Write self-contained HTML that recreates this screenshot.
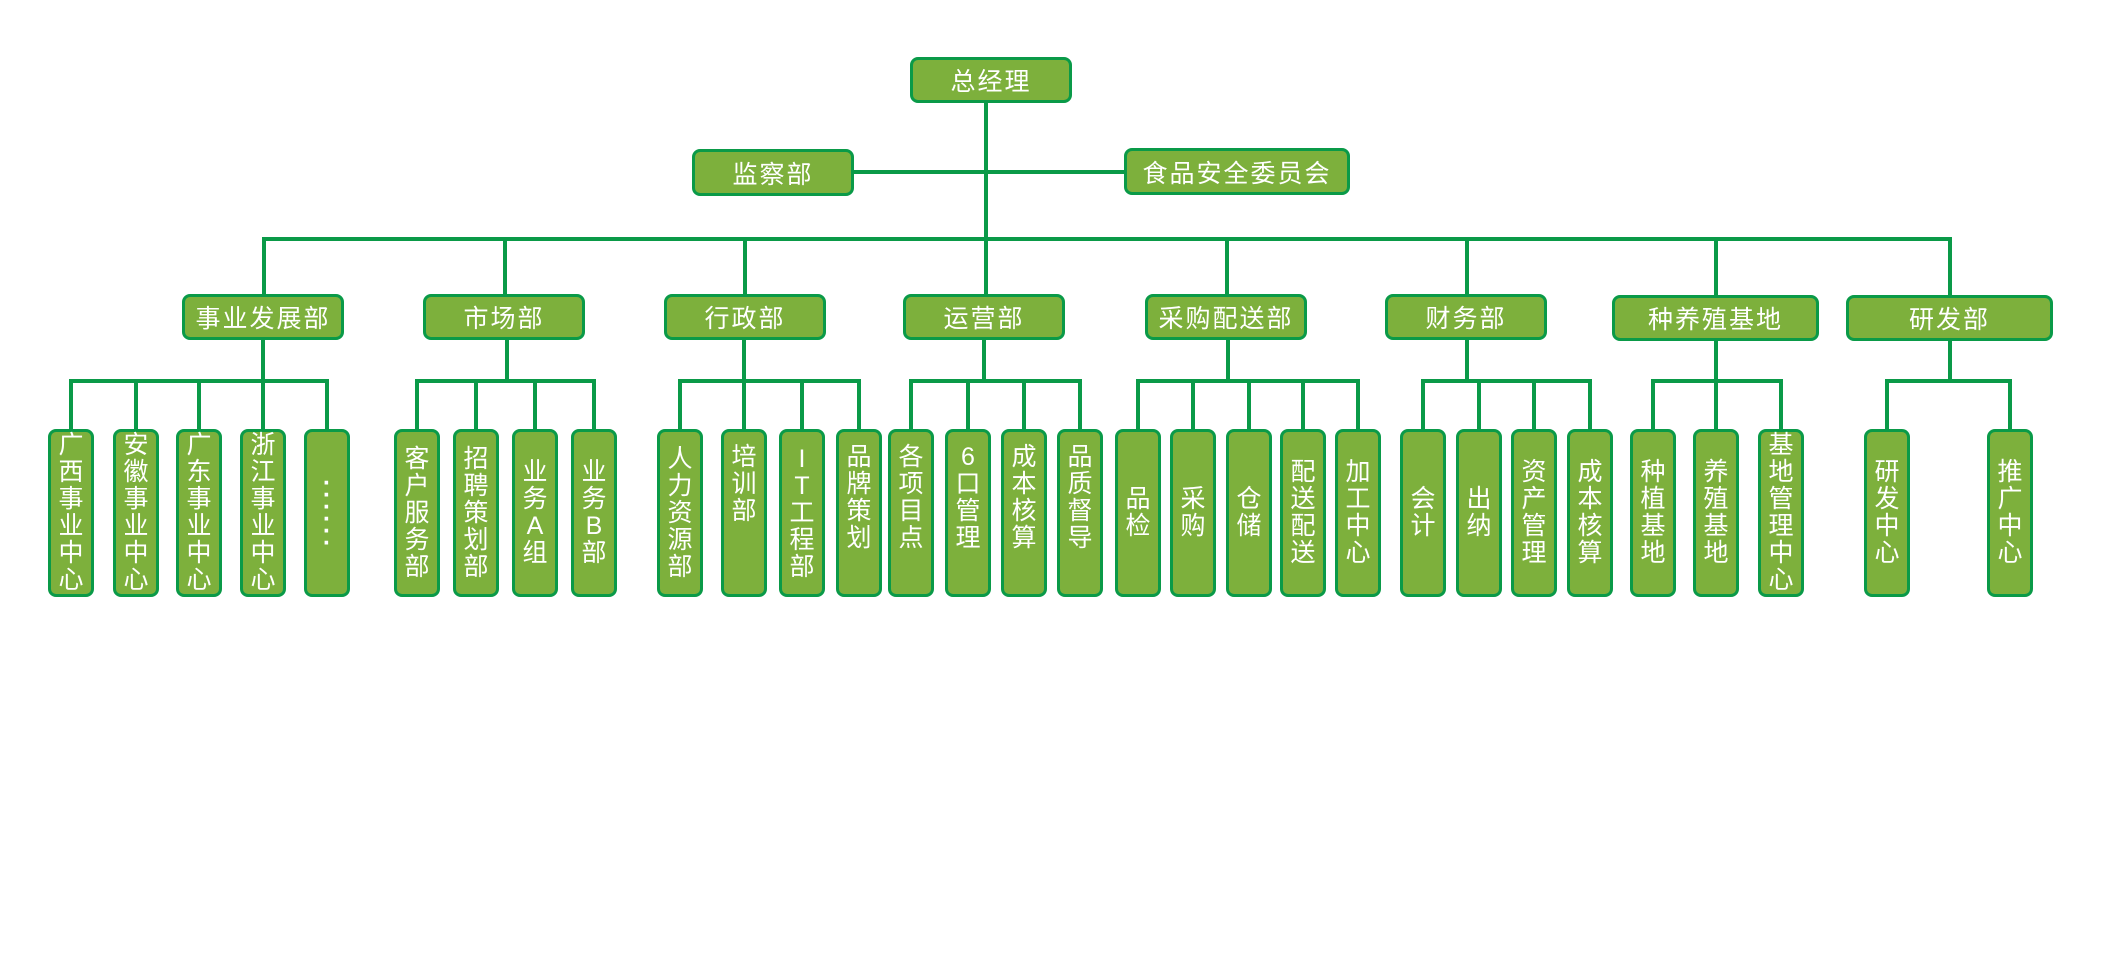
<!DOCTYPE html>
<html><head><meta charset="utf-8"><style>
body{margin:0;width:2104px;height:978px;background:#fff;position:relative;overflow:hidden;font-family:"Liberation Sans","Noto Sans CJK SC",sans-serif;}
.b{position:absolute;box-sizing:border-box;background:#7db03c;border:3.5px solid #0a9a48;border-radius:8px;color:#fff;display:flex;align-items:center;justify-content:center;font-size:25px;letter-spacing:2px;}
.l{position:absolute;box-sizing:border-box;background:#7db03c;border:3.5px solid #0a9a48;border-radius:8px;color:#fff;display:flex;flex-direction:column;align-items:center;justify-content:center;font-size:25px;width:46px;top:429px;height:168px;}
.l span{display:block;height:27px;line-height:27px;}
.l.d span{height:12px;line-height:12px;font-weight:bold}
.h,.v{position:absolute;background:#0a9a48;}
.h{height:4px}.v{width:4px}
</style></head><body>
<div class="v" style="left:984px;top:100px;height:196px"></div>
<div class="h" style="left:852px;top:170px;width:274px"></div>
<div class="h" style="left:262px;top:237px;width:1690px"></div>
<div class="v" style="left:262px;top:237px;height:58px"></div>
<div class="v" style="left:503px;top:237px;height:58px"></div>
<div class="v" style="left:743px;top:237px;height:58px"></div>
<div class="v" style="left:1225px;top:237px;height:58px"></div>
<div class="v" style="left:1465px;top:237px;height:58px"></div>
<div class="v" style="left:1714px;top:237px;height:58px"></div>
<div class="v" style="left:1948px;top:237px;height:58px"></div>

<div class="b" style="left:910px;top:57px;width:162px;height:46px">总经理</div>
<div class="b" style="left:692px;top:149px;width:162px;height:47px">监察部</div>
<div class="b" style="left:1124px;top:148px;width:226px;height:47px">食品安全委员会</div>

<div class="b" style="left:182px;top:294px;width:162px;height:46px">事业发展部</div>
<div class="b" style="left:423px;top:294px;width:162px;height:46px">市场部</div>
<div class="b" style="left:664px;top:294px;width:162px;height:46px">行政部</div>
<div class="b" style="left:903px;top:294px;width:162px;height:46px">运营部</div>
<div class="b" style="left:1145px;top:294px;width:162px;height:46px">采购配送部</div>
<div class="b" style="left:1385px;top:294px;width:162px;height:46px">财务部</div>
<div class="b" style="left:1612px;top:295px;width:207px;height:46px">种养殖基地</div>
<div class="b" style="left:1846px;top:295px;width:207px;height:46px">研发部</div>

<div class="v" style="left:261px;top:340px;height:43px"></div>
<div class="h" style="left:69px;top:379px;width:260px"></div>
<div class="v" style="left:505px;top:340px;height:43px"></div>
<div class="h" style="left:415px;top:379px;width:181px"></div>
<div class="v" style="left:742px;top:340px;height:43px"></div>
<div class="h" style="left:678px;top:379px;width:183px"></div>
<div class="v" style="left:982px;top:340px;height:43px"></div>
<div class="h" style="left:909px;top:379px;width:173px"></div>
<div class="v" style="left:1226px;top:340px;height:43px"></div>
<div class="h" style="left:1136px;top:379px;width:224px"></div>
<div class="v" style="left:1465px;top:340px;height:43px"></div>
<div class="h" style="left:1421px;top:379px;width:171px"></div>
<div class="v" style="left:1714px;top:340px;height:43px"></div>
<div class="h" style="left:1651px;top:379px;width:132px"></div>
<div class="v" style="left:1948px;top:340px;height:43px"></div>
<div class="h" style="left:1885px;top:379px;width:127px"></div>

<div class="v" style="left:69px;top:379px;height:52px"></div>
<div class="v" style="left:134px;top:379px;height:52px"></div>
<div class="v" style="left:197px;top:379px;height:52px"></div>
<div class="v" style="left:261px;top:379px;height:52px"></div>
<div class="v" style="left:325px;top:379px;height:52px"></div>
<div class="v" style="left:415px;top:379px;height:52px"></div>
<div class="v" style="left:474px;top:379px;height:52px"></div>
<div class="v" style="left:533px;top:379px;height:52px"></div>
<div class="v" style="left:592px;top:379px;height:52px"></div>
<div class="v" style="left:678px;top:379px;height:52px"></div>
<div class="v" style="left:742px;top:379px;height:52px"></div>
<div class="v" style="left:800px;top:379px;height:52px"></div>
<div class="v" style="left:857px;top:379px;height:52px"></div>
<div class="v" style="left:909px;top:379px;height:52px"></div>
<div class="v" style="left:966px;top:379px;height:52px"></div>
<div class="v" style="left:1022px;top:379px;height:52px"></div>
<div class="v" style="left:1078px;top:379px;height:52px"></div>
<div class="v" style="left:1136px;top:379px;height:52px"></div>
<div class="v" style="left:1191px;top:379px;height:52px"></div>
<div class="v" style="left:1247px;top:379px;height:52px"></div>
<div class="v" style="left:1301px;top:379px;height:52px"></div>
<div class="v" style="left:1356px;top:379px;height:52px"></div>
<div class="v" style="left:1421px;top:379px;height:52px"></div>
<div class="v" style="left:1477px;top:379px;height:52px"></div>
<div class="v" style="left:1532px;top:379px;height:52px"></div>
<div class="v" style="left:1588px;top:379px;height:52px"></div>
<div class="v" style="left:1651px;top:379px;height:52px"></div>
<div class="v" style="left:1714px;top:379px;height:52px"></div>
<div class="v" style="left:1779px;top:379px;height:52px"></div>
<div class="v" style="left:1885px;top:379px;height:52px"></div>
<div class="v" style="left:2008px;top:379px;height:52px"></div>

<div class="l" style="left:48px"><span>广</span><span>西</span><span>事</span><span>业</span><span>中</span><span>心</span></div>
<div class="l" style="left:113px"><span>安</span><span>徽</span><span>事</span><span>业</span><span>中</span><span>心</span></div>
<div class="l" style="left:176px"><span>广</span><span>东</span><span>事</span><span>业</span><span>中</span><span>心</span></div>
<div class="l" style="left:240px"><span>浙</span><span>江</span><span>事</span><span>业</span><span>中</span><span>心</span></div>
<div class="l d" style="left:304px"><span>·</span><span>·</span><span>·</span><span>·</span><span>·</span><span>·</span></div>
<div class="l" style="left:394px"><span>客</span><span>户</span><span>服</span><span>务</span><span>部</span></div>
<div class="l" style="left:453px"><span>招</span><span>聘</span><span>策</span><span>划</span><span>部</span></div>
<div class="l" style="left:512px"><span>业</span><span>务</span><span>A</span><span>组</span></div>
<div class="l" style="left:571px"><span>业</span><span>务</span><span>B</span><span>部</span></div>
<div class="l" style="left:657px"><span>人</span><span>力</span><span>资</span><span>源</span><span>部</span></div>
<div class="l" style="left:721px;justify-content:flex-start;padding-top:12px"><span>培</span><span>训</span><span>部</span></div>
<div class="l" style="left:779px"><span>I</span><span>T</span><span>工</span><span>程</span><span>部</span></div>
<div class="l" style="left:836px;justify-content:flex-start;padding-top:12px"><span>品</span><span>牌</span><span>策</span><span>划</span></div>
<div class="l" style="left:888px;justify-content:flex-start;padding-top:12px"><span>各</span><span>项</span><span>目</span><span>点</span></div>
<div class="l" style="left:945px;justify-content:flex-start;padding-top:12px"><span>6</span><span>口</span><span>管</span><span>理</span></div>
<div class="l" style="left:1001px;justify-content:flex-start;padding-top:12px"><span>成</span><span>本</span><span>核</span><span>算</span></div>
<div class="l" style="left:1057px;justify-content:flex-start;padding-top:12px"><span>品</span><span>质</span><span>督</span><span>导</span></div>
<div class="l" style="left:1115px"><span>品</span><span>检</span></div>
<div class="l" style="left:1170px"><span>采</span><span>购</span></div>
<div class="l" style="left:1226px"><span>仓</span><span>储</span></div>
<div class="l" style="left:1280px"><span>配</span><span>送</span><span>配</span><span>送</span></div>
<div class="l" style="left:1335px"><span>加</span><span>工</span><span>中</span><span>心</span></div>
<div class="l" style="left:1400px"><span>会</span><span>计</span></div>
<div class="l" style="left:1456px"><span>出</span><span>纳</span></div>
<div class="l" style="left:1511px"><span>资</span><span>产</span><span>管</span><span>理</span></div>
<div class="l" style="left:1567px"><span>成</span><span>本</span><span>核</span><span>算</span></div>
<div class="l" style="left:1630px"><span>种</span><span>植</span><span>基</span><span>地</span></div>
<div class="l" style="left:1693px"><span>养</span><span>殖</span><span>基</span><span>地</span></div>
<div class="l" style="left:1758px"><span>基</span><span>地</span><span>管</span><span>理</span><span>中</span><span>心</span></div>
<div class="l" style="left:1864px"><span>研</span><span>发</span><span>中</span><span>心</span></div>
<div class="l" style="left:1987px"><span>推</span><span>广</span><span>中</span><span>心</span></div>
</body></html>
